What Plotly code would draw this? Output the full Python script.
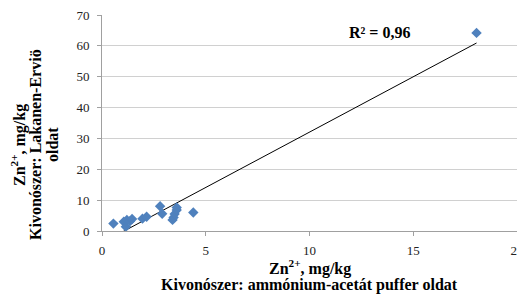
import numpy as np
import plotly.graph_objects as go

# Data
x_vals = [0.55, 1.05, 1.15, 1.2, 1.35, 1.45, 1.95, 2.15, 2.8, 2.9, 3.4, 3.45, 3.5, 3.6, 3.6, 4.4, 18.05]
y_vals = [2.4, 3.0, 1.4, 3.6, 3.2, 3.9, 4.0, 4.6, 8.0, 5.6, 3.6, 4.4, 5.5, 6.8, 7.6, 6.0, 64.2]
x_ticks = [0, 5, 10, 15, 20]
y_ticks = [0, 10, 20, 30, 40, 50, 60, 70]
r2_label = "R² = 0,96"
x_title_lines = ["Zn<sup>2+</sup>, mg/kg", "Kivonószer: ammónium-acetát puffer oldat"]
y_title_lines = ["Zn<sup>2+</sup>, mg/kg", "Kivonószer: Lakanen-Erviö", "oldat"]

# linear trendline (least squares), drawn over the data's x range
slope, intercept = np.polyfit(x_vals, y_vals, 1)
tx = [min(x_vals), max(x_vals)]
ty = [slope * v + intercept for v in tx]

FONT = "Liberation Serif, Times New Roman, serif"
TITLE_SIZE = 16

fig = go.Figure()
fig.add_trace(go.Scatter(x=tx, y=ty, mode="lines",
                         line=dict(color="black", width=1), hoverinfo="skip"))
fig.add_trace(go.Scatter(x=x_vals, y=y_vals, mode="markers",
                         marker=dict(symbol="diamond", size=8, color="#4F81BD",
                                     line=dict(width=0))))

# page body has an 8px margin, so the figure is sized/positioned to compensate
fig.update_layout(
    width=517, height=286,
    margin=dict(l=94, r=8, t=7, b=63),
    paper_bgcolor="white", plot_bgcolor="white",
    showlegend=False,
    font=dict(family=FONT, size=13, color="#222"),
    xaxis=dict(range=[0, 20], tickvals=x_ticks, showgrid=False, automargin=False,
               showline=True, linecolor="#a0a0a0", linewidth=1,
               ticks="outside", tickcolor="#a0a0a0", ticklen=4,
               ticklabelstandoff=3, ticklabeloverflow="allow",
               zeroline=False, tickfont=dict(family=FONT, size=13, color="#222")),
    yaxis=dict(range=[0, 70], tickvals=y_ticks, showgrid=True, automargin=False,
               gridcolor="#d0d0d0", gridwidth=1,
               showline=True, linecolor="#a0a0a0", linewidth=1,
               ticks="outside", tickcolor="#a0a0a0", ticklen=4,
               ticklabelstandoff=5, ticklabeloverflow="allow",
               zeroline=False, tickfont=dict(family=FONT, size=13, color="#222")),
)

for line, shift in zip(x_title_lines, [-36, -54]):
    fig.add_annotation(xref="paper", yref="paper", x=0.5, y=0,
                       xanchor="center", yanchor="middle", yshift=shift,
                       showarrow=False, text="<b>" + line + "</b>",
                       font=dict(family=FONT, size=TITLE_SIZE, color="black"))
for line, shift in zip(y_title_lines, [-84, -67, -50]):
    fig.add_annotation(xref="paper", yref="paper", x=0, y=0.5,
                       xanchor="center", yanchor="middle", xshift=shift, yshift=-22,
                       showarrow=False, textangle=-90, text="<b>" + line + "</b>",
                       font=dict(family=FONT, size=TITLE_SIZE, color="black"))
fig.add_annotation(x=13.35, y=64.2, xref="x", yref="y", showarrow=False,
                   xanchor="center", yanchor="middle",
                   text="<b>" + r2_label + "</b>",
                   font=dict(family=FONT, size=TITLE_SIZE, color="black"))

fig.write_html("out.html")
